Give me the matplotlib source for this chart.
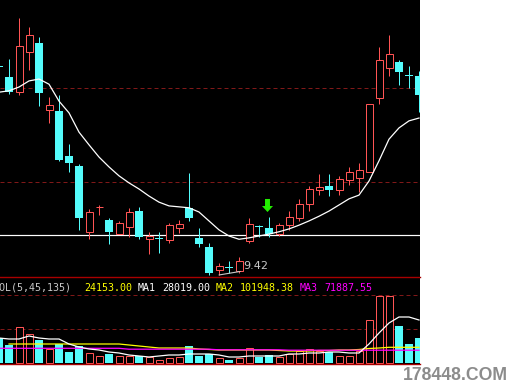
import numpy as np
import matplotlib
matplotlib.use("Agg")
import matplotlib.pyplot as plt
from matplotlib.path import Path
from matplotlib import transforms, font_manager

# ---------------- data ----------------
opens = [13.87, 13.63, 13.31, 14.17, 14.36, 12.93, 12.91, 11.95, 11.74, 10.34,
         10.86, 10.59, 10.29, 10.44, 10.78, 10.19, 10.19, 10.17, 10.42, 10.85,
         10.21, 10.02, 9.53, 9.57, 9.51, 10.14, 10.46, 10.42, 10.29, 10.48,
         10.63, 10.93, 11.23, 11.31, 11.23, 11.44, 11.48, 11.61, 13.19, 13.83,
         13.95, 13.66, 13.65]
closes = [13.85, 13.31, 14.29, 14.53, 13.29, 13.04, 11.87, 11.80, 10.63, 10.76,
          10.87, 10.34, 10.53, 10.76, 10.23, 10.25, 10.18, 10.48, 10.51, 10.63,
          10.08, 9.46, 9.61, 9.56, 9.72, 10.51, 10.45, 10.29, 10.48, 10.65,
          10.93, 11.25, 11.29, 11.23, 11.46, 11.61, 11.65, 13.06, 14.00, 14.12,
          13.74, 13.65, 13.25]
highs = [13.88, 14.02, 14.89, 14.70, 14.49, 13.21, 13.25, 12.21, 11.78, 10.82,
         10.91, 10.63, 10.57, 10.85, 10.87, 10.34, 10.34, 10.53, 10.59, 11.59,
         10.42, 10.10, 9.68, 9.72, 9.80, 10.63, 10.48, 10.65, 10.53, 10.78,
         11.04, 11.31, 11.57, 11.57, 11.53, 11.72, 11.80, 13.06, 14.27, 14.53,
         14.00, 13.87, 13.76]
lows = [13.84, 13.27, 13.25, 13.78, 13.02, 12.65, 11.85, 11.61, 10.38, 10.19,
        10.70, 10.08, 10.29, 10.23, 10.19, 9.87, 9.89, 10.10, 10.31, 10.57,
        10.02, 9.43, 9.42, 9.46, 9.46, 10.10, 10.23, 10.23, 10.25, 10.38,
        10.57, 10.78, 11.12, 11.10, 11.12, 11.34, 11.19, 11.61, 13.06, 13.65,
        13.46, 13.40, 12.89]
price_ma = [13.31, 13.34, 13.42, 13.55, 13.59, 13.48, 13.12, 12.87, 12.46, 12.19,
            11.93, 11.72, 11.53, 11.38, 11.25, 11.10, 10.97, 10.89, 10.87, 10.85,
            10.76, 10.57, 10.38, 10.25, 10.18, 10.21, 10.25, 10.29, 10.34, 10.40,
            10.48, 10.57, 10.67, 10.78, 10.91, 11.04, 11.12, 11.42, 11.85, 12.31,
            12.55, 12.70, 12.76]
price_grid = [11.40, 13.40]
ref_line = 10.28
signal_bars = [27]

volumes = [25000, 18000, 36000, 29000, 23000, 14000, 19000, 11000, 17000, 10000,
           7000, 9000, 7000, 7000, 7000, 6000, 3000, 5000, 6000, 17000,
           7500, 9000, 5000, 3000, 5000, 15000, 6500, 8000, 6000, 9000,
           12000, 14000, 12000, 11000, 7000, 7000, 12000, 43000, 67000, 67000,
           37000, 19000, 25000]
vol_up = [0, 0, 1, 1, 0, 1, 0, 0, 0, 1,
          1, 0, 1, 1, 0, 1, 1, 1, 1, 0,
          0, 0, 1, 0, 1, 1, 0, 0, 1, 1,
          1, 1, 1, 0, 1, 1, 1, 1, 1, 1,
          0, 0, 0]
vol_ma1 = [25000, 24000, 24000, 27000, 25000, 24000, 24000, 19000, 16000, 14000,
           13000, 11000, 10000, 8000, 7000, 6000, 7000, 8000, 8000, 9000,
           9000, 9000, 8000, 6000, 6000, 7000, 7000, 7000, 7000, 9000,
           9000, 10000, 10000, 11000, 11000, 10000, 10000, 19000, 30000, 40000,
           46000, 46000, 43000]
vol_ma2 = [np.nan, 19000, 19000, 19000, 19000, 19000, 19000, 19000, 19000, 19000,
           19000, 19000, 19000, 18000, 17000, 16000, 15000, 15000, 15000, 15000,
           14000, 13500, 13000, 13000, 13000, 13000, 13000, 13000, 12500, 12000,
           12000, 12000, 12500, 12500, 13000, 13000, 13500, 14500, 15000, 15700,
           15700, 15700, 15700]
vol_ma3 = [14700, 14700, 14700, 14700, 14700, 14700, 14700, 14700, 14700, 14700,
           14700, 14700, 14700, 13800, 13800, 13800, 13800, 13800, 13800, 13800,
           13800, 13800, 13200, 13200, 13200, 13200, 13200, 13200, 13200, 12800,
           12800, 12800, 12800, 12800, 12800, 12800, 12800, 12800, 12800, 12800,
           12800, 12800, 12800]
vol_grid = [34000, 68000]
vol_title = "VOL(5,45,135)"
vol_fields = ["24153.00", "MA1", "28019.00", "MA2", "101948.38", "MA3", "71887.55"]
watermark = "178448.COM"

# ---------------- style ----------------
RED = "#ff5454"
CYAN = "#54fcfc"
DASH = "#801818"
SEP = "#a80000"
W, H = 512, 384
LW1 = 0.72  # one pixel in points

fig = plt.figure(figsize=(W / 100, H / 100), dpi=100, facecolor="white")
PRICE_BOT = 277
VOL_TOP, VOL_BOT = 277, 364
RIGHT = 420
ax = fig.add_axes([0, (H - PRICE_BOT) / H, RIGHT / W, PRICE_BOT / H])
axv = fig.add_axes([0, (H - VOL_BOT) / H, RIGHT / W, (VOL_BOT - VOL_TOP) / H])
for a in (ax, axv):
    a.set_facecolor("black")
    a.set_xticks([])
    a.set_yticks([])
    for s in a.spines.values():
        s.set_visible(False)
    a.set_xlim(0.1, 42.1)
ax.set_ylim(9.377, 15.272)
axv.set_ylim(-1000, 86000)
for side in ("top", "bottom"):
    axv.spines[side].set_visible(True)
    axv.spines[side].set_color(SEP)
    axv.spines[side].set_linewidth(1.0)

o = np.array(opens); c = np.array(closes)
h = np.array(highs); l = np.array(lows)
x = np.arange(len(o))
up = c > o
dn = ~up
ppx = (ax.get_ylim()[1] - ax.get_ylim()[0]) / PRICE_BOT

# grid lines
for g in price_grid:
    ax.axhline(g, color=DASH, lw=LW1, dashes=(4, 3), zorder=1)
ax.axhline(ref_line, color="white", lw=LW1 * 1.2, zorder=1.5)

# candles
ax.vlines(x[dn], l[dn], h[dn], color=CYAN, lw=LW1, zorder=2)
ax.bar(x[dn], np.maximum(o[dn] - c[dn], ppx), bottom=c[dn], width=0.8,
       color=CYAN, lw=0, zorder=3)
ax.vlines(x[up], l[up], o[up], color=RED, lw=LW1, zorder=2)
ax.vlines(x[up], c[up], h[up], color=RED, lw=LW1, zorder=2)
ax.bar(x[up], c[up] - o[up], bottom=o[up], width=0.7, facecolor="black",
       edgecolor=RED, lw=LW1, zorder=3)

ax.plot(x, price_ma, color="white", lw=0.9, zorder=4)

# signal arrow
verts = [(-0.19, 0.5), (0.19, 0.5), (0.19, -0.04), (0.423, -0.04), (0.0, -0.5),
         (-0.423, -0.04), (-0.19, -0.04), (-0.19, 0.5)]
codes = [Path.MOVETO] + [Path.LINETO] * 6 + [Path.CLOSEPOLY]
arrow = Path(verts, codes)
tr = transforms.offset_copy(ax.transData, fig=fig, x=-2.5, y=12.5, units="dots")
for s in signal_bars:
    ax.plot([s], [highs[s]], marker=arrow, markersize=9.4, color="#22ee00",
            markeredgewidth=0, transform=tr, zorder=6, clip_on=False)

# lowest price label
names = {f.name for f in font_manager.fontManager.ttflist}
narrow = "Liberation Sans Narrow" if "Liberation Sans Narrow" in names else "DejaVu Sans"
il = int(np.argmin(l))
ax.annotate(f"{l[il]:.2f}", xy=(il, l[il]), xytext=(24, 6), textcoords="offset pixels",
            color="#c8c8c8", fontsize=9.5 if narrow != "DejaVu Sans" else 8,
            family=narrow, ha="left", va="baseline", zorder=6,
            arrowprops=dict(arrowstyle="-", color="#c8c8c8", lw=0.8,
                            shrinkA=0, shrinkB=0, relpos=(0, 0)))

# volume
v = np.array(volumes); vu = np.array(vol_up, bool)
for g in vol_grid:
    axv.axhline(g, color=DASH, lw=LW1, dashes=(4, 3), zorder=1)
axv.bar(x[~vu], v[~vu], width=0.8, color=CYAN, lw=0, zorder=2)
axv.bar(x[vu], v[vu], width=0.7, facecolor="black", edgecolor=RED, lw=LW1, zorder=2)
axv.plot(x, vol_ma2, color="#ffff00", lw=0.9, zorder=3)
axv.plot(x, vol_ma3, color="#ff00ff", lw=0.9, zorder=4)
axv.plot(x, vol_ma1, color="white", lw=0.9, zorder=5)

# volume header text (monospace, 6 px per char)
segments = [(vol_title + "  ", "#c8c8c8")]
seg_colors = ["#ffff00", "white", "white", "#ffff00", "#ffff00", "#ff00ff", "#ff00ff"]
for t, col in zip(vol_fields, seg_colors):
    segments.append((t + " ", col))
k = 0
ybase = (VOL_BOT - 291) / (VOL_BOT - VOL_TOP)
for t, col in segments:
    xpx = -6 + 6 * k
    axv.text(xpx / RIGHT, ybase, t.rstrip(), transform=axv.transAxes, color=col,
             family="DejaVu Sans Mono", fontsize=7.18, ha="left", va="baseline",
             zorder=7, clip_on=False)
    k += len(t)

fig.text(403 / W, 4 / H, watermark, color="#8c8c8c", fontsize=12.7,
         fontweight="bold", family="Liberation Sans", ha="left", va="baseline")

fig.savefig("out.png", dpi=100, facecolor="white")
